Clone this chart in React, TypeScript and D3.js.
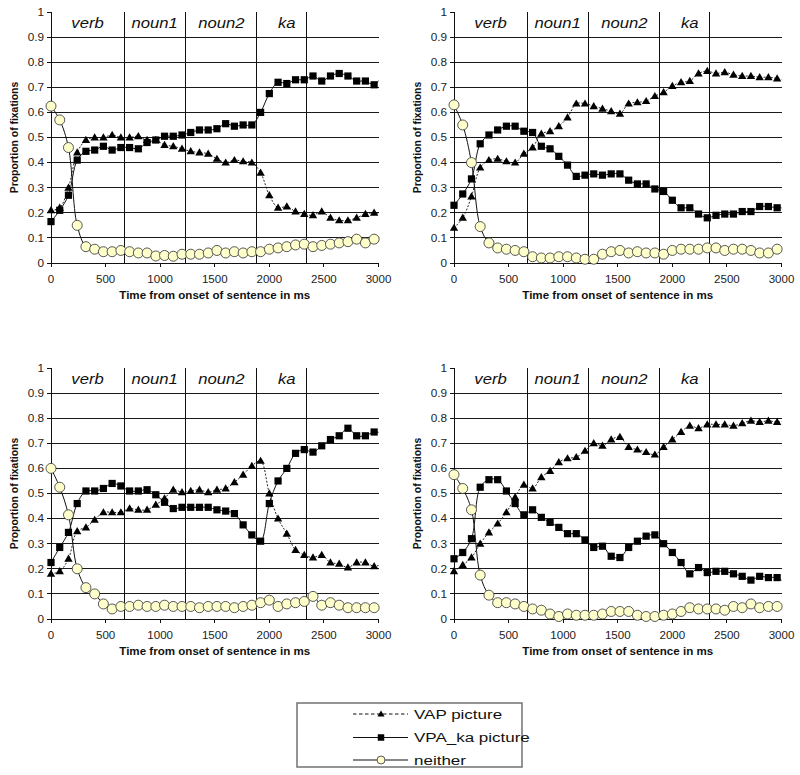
import React from 'react';
import * as d3 from 'd3';

const TIMES = [0, 80, 160, 240, 320, 400, 480, 560, 640, 720, 800, 880, 960, 1040, 1120, 1200, 1280, 1360, 1440, 1520, 1600, 1680, 1760, 1840, 1920, 2000, 2080, 2160, 2240, 2320, 2400, 2480, 2560, 2640, 2720, 2800, 2880, 2960, 3040];
const SEGMENT_BOUNDS = [670, 1235, 1878, 2343];
const SEGMENT_LABELS = ['verb', 'noun1', 'noun2', 'ka'];
const SEGMENT_LABEL_POS = [335, 950, 1560, 2160];
const Y_TICKS = [0, 0.1, 0.2, 0.3, 0.4, 0.5, 0.6, 0.7, 0.8, 0.9, 1];
const Y_TICK_LABELS = ['0', '0.1', '0.2', '0.3', '0.4', '0.5', '0.6', '0.7', '0.8', '0.9', '1'];
const X_TICKS = [0, 500, 1000, 1500, 2000, 2500, 3000];
const SERIES_NAMES = ['VAP picture', 'VPA_ka picture', 'neither'];

// Panel 1 (top-left)
const P1_VAP = [0.21, 0.22, 0.30, 0.44, 0.49, 0.50, 0.50, 0.51, 0.50, 0.50, 0.505, 0.49, 0.49, 0.47, 0.465, 0.455, 0.445, 0.44, 0.435, 0.415, 0.40, 0.41, 0.405, 0.40, 0.36, 0.27, 0.22, 0.225, 0.205, 0.195, 0.19, 0.205, 0.18, 0.17, 0.17, 0.18, 0.195, 0.20, 0.195];
const P1_VPA = [0.165, 0.21, 0.27, 0.41, 0.445, 0.45, 0.465, 0.45, 0.46, 0.46, 0.455, 0.48, 0.49, 0.505, 0.505, 0.51, 0.52, 0.53, 0.53, 0.535, 0.555, 0.545, 0.55, 0.55, 0.60, 0.675, 0.72, 0.715, 0.73, 0.73, 0.745, 0.725, 0.745, 0.755, 0.745, 0.725, 0.725, 0.71, 0.75];
const P1_NEITHER = [0.625, 0.57, 0.46, 0.15, 0.065, 0.055, 0.045, 0.045, 0.05, 0.045, 0.04, 0.04, 0.028, 0.03, 0.027, 0.035, 0.035, 0.035, 0.04, 0.05, 0.04, 0.045, 0.04, 0.045, 0.045, 0.055, 0.06, 0.065, 0.072, 0.075, 0.065, 0.07, 0.075, 0.08, 0.085, 0.095, 0.08, 0.095, 0.075];

// Panel 2 (top-right)
const P2_VAP = [0.14, 0.18, 0.265, 0.38, 0.41, 0.415, 0.405, 0.40, 0.435, 0.46, 0.515, 0.525, 0.545, 0.58, 0.635, 0.635, 0.625, 0.615, 0.605, 0.595, 0.635, 0.64, 0.645, 0.665, 0.68, 0.705, 0.72, 0.725, 0.755, 0.765, 0.755, 0.76, 0.75, 0.745, 0.745, 0.74, 0.74, 0.735, 0.725];
const P2_VPA = [0.23, 0.275, 0.335, 0.475, 0.51, 0.53, 0.545, 0.545, 0.525, 0.52, 0.465, 0.455, 0.425, 0.39, 0.345, 0.35, 0.355, 0.35, 0.355, 0.355, 0.33, 0.315, 0.315, 0.295, 0.285, 0.25, 0.22, 0.22, 0.195, 0.18, 0.19, 0.195, 0.195, 0.205, 0.205, 0.225, 0.225, 0.22, 0.22];
const P2_NEITHER = [0.63, 0.55, 0.40, 0.145, 0.08, 0.06, 0.055, 0.05, 0.045, 0.025, 0.02, 0.02, 0.025, 0.025, 0.02, 0.015, 0.015, 0.035, 0.045, 0.05, 0.04, 0.045, 0.04, 0.04, 0.035, 0.05, 0.055, 0.055, 0.055, 0.06, 0.06, 0.05, 0.055, 0.055, 0.05, 0.04, 0.04, 0.055, 0.06];

// Panel 3 (bottom-left)
const P3_VAP = [0.18, 0.19, 0.24, 0.35, 0.365, 0.395, 0.425, 0.425, 0.425, 0.44, 0.435, 0.435, 0.455, 0.48, 0.515, 0.505, 0.51, 0.515, 0.505, 0.515, 0.52, 0.545, 0.575, 0.61, 0.63, 0.50, 0.40, 0.34, 0.275, 0.255, 0.245, 0.255, 0.225, 0.22, 0.205, 0.225, 0.225, 0.21, 0.22];
const P3_VPA = [0.225, 0.285, 0.345, 0.46, 0.51, 0.51, 0.52, 0.54, 0.53, 0.51, 0.51, 0.515, 0.495, 0.465, 0.44, 0.445, 0.445, 0.445, 0.445, 0.435, 0.43, 0.42, 0.375, 0.335, 0.31, 0.46, 0.55, 0.60, 0.66, 0.675, 0.665, 0.69, 0.715, 0.73, 0.76, 0.73, 0.73, 0.745, 0.74];
const P3_NEITHER = [0.60, 0.525, 0.415, 0.20, 0.125, 0.10, 0.06, 0.04, 0.05, 0.05, 0.055, 0.05, 0.05, 0.055, 0.05, 0.05, 0.05, 0.045, 0.05, 0.05, 0.05, 0.045, 0.05, 0.055, 0.065, 0.075, 0.05, 0.06, 0.065, 0.07, 0.09, 0.055, 0.065, 0.055, 0.045, 0.045, 0.045, 0.045, 0.045];

// Panel 4 (bottom-right)
const P4_VAP = [0.19, 0.215, 0.245, 0.30, 0.345, 0.38, 0.425, 0.485, 0.535, 0.52, 0.565, 0.59, 0.625, 0.64, 0.645, 0.67, 0.70, 0.69, 0.715, 0.725, 0.685, 0.675, 0.665, 0.655, 0.685, 0.715, 0.745, 0.77, 0.76, 0.775, 0.775, 0.775, 0.77, 0.78, 0.79, 0.785, 0.79, 0.785, 0.79];
const P4_VPA = [0.24, 0.265, 0.32, 0.525, 0.555, 0.555, 0.51, 0.46, 0.415, 0.435, 0.405, 0.385, 0.365, 0.34, 0.34, 0.315, 0.285, 0.29, 0.25, 0.245, 0.285, 0.31, 0.33, 0.335, 0.30, 0.265, 0.225, 0.18, 0.205, 0.185, 0.19, 0.19, 0.18, 0.17, 0.155, 0.17, 0.165, 0.165, 0.14];
const P4_NEITHER = [0.575, 0.52, 0.435, 0.175, 0.095, 0.065, 0.065, 0.06, 0.05, 0.04, 0.035, 0.02, 0.01, 0.02, 0.015, 0.015, 0.015, 0.02, 0.03, 0.03, 0.03, 0.015, 0.01, 0.01, 0.015, 0.02, 0.03, 0.045, 0.04, 0.04, 0.04, 0.035, 0.05, 0.045, 0.06, 0.045, 0.05, 0.05, 0.05];

const PANELS = [
  { id: 'p1', x: 0, y: 0, vap: P1_VAP, vpa: P1_VPA, neither: P1_NEITHER },
  { id: 'p2', x: 403, y: 0, vap: P2_VAP, vpa: P2_VPA, neither: P2_NEITHER },
  { id: 'p3', x: 0, y: 356, vap: P3_VAP, vpa: P3_VPA, neither: P3_NEITHER },
  { id: 'p4', x: 403, y: 356, vap: P4_VAP, vpa: P4_VPA, neither: P4_NEITHER },
];

const FONT = "'Liberation Sans', Arial, Helvetica, sans-serif";
const PL = 51, PR = 378.5, PT = 12, PB = 263;
const MAX_T = 3000;

function Tri({ cx, cy, s = 1 }: { cx: number; cy: number; s?: number }) {
  const w = 4.2 * s, h1 = 4.2 * s, h2 = 3 * s;
  return <path d={`M${cx},${cy - h1}L${cx + w},${cy + h2}L${cx - w},${cy + h2}Z`} fill="#000" />;
}
function Sq({ cx, cy, s = 1 }: { cx: number; cy: number; s?: number }) {
  const h = 3.6 * s;
  return <rect x={cx - h} y={cy - h} width={2 * h} height={2 * h} fill="#000" />;
}
function Circ({ cx, cy, s = 1 }: { cx: number; cy: number; s?: number }) {
  return <circle cx={cx} cy={cy} r={5 * s} fill="#FFFFCC" stroke="#444" strokeWidth={0.9} />;
}

function Panel({ p }: { p: typeof PANELS[number] }) {
  const x = d3.scaleLinear().domain([0, 3000]).range([PL, PR]);
  const y = d3.scaleLinear().domain([0, 1]).range([PB, PT]);
  const line = d3.line<number>().x((_, i) => x(TIMES[i])).y((d) => y(d)).curve(d3.curveCatmullRom.alpha(0.5));
  const pts = (arr: number[]) => arr.map((v, i) => ({ t: TIMES[i], v })).filter((d) => d.t <= MAX_T);
  const clipId = `clip-${p.id}`;
  return (
    <g transform={`translate(${p.x},${p.y})`}>
      <defs>
        <clipPath id={clipId}>
          <rect x={PL} y={0} width={PR - PL} height={PB + 2} />
        </clipPath>
      </defs>
      {Y_TICKS.filter((t) => t > 0 && t < 1).map((t) => (
        <line key={`g${t}`} x1={PL} x2={PR} y1={y(t)} y2={y(t)} stroke="#1a1a1a" strokeWidth={1} shapeRendering="crispEdges" />
      ))}
      {SEGMENT_BOUNDS.map((b) => (
        <line key={`s${b}`} x1={x(b)} x2={x(b)} y1={y(1)} y2={y(0)} stroke="#111" strokeWidth={1} shapeRendering="crispEdges" />
      ))}
      <line x1={PL} x2={PL} y1={PT} y2={PB} stroke="#111" strokeWidth={1} shapeRendering="crispEdges" />
      <line x1={PL} x2={PR} y1={PB} y2={PB} stroke="#111" strokeWidth={1} shapeRendering="crispEdges" />
      {Y_TICKS.map((t, i) => (
        <g key={`yt${t}`}>
          <line x1={PL - 4} x2={PL} y1={y(t)} y2={y(t)} stroke="#111" shapeRendering="crispEdges" />
          <text transform={`translate(${PL - 7},${y(t) + 3.8}) scale(1.12,1)`} textAnchor="end" fontFamily={FONT} fontSize={10.5} fill="#222">
            {Y_TICK_LABELS[i]}
          </text>
        </g>
      ))}
      {X_TICKS.map((t) => (
        <g key={`xt${t}`}>
          <line x1={x(t)} x2={x(t)} y1={PB} y2={PB + 4} stroke="#111" shapeRendering="crispEdges" />
          <text transform={`translate(${x(t)},${PB + 20}) scale(1.1,1)`} textAnchor="middle" fontFamily={FONT} fontSize={10.5} fill="#222">
            {t}
          </text>
        </g>
      ))}
      <text transform={`translate(${(PL + PR) / 2},${PB + 36}) scale(1.16,1)`} textAnchor="middle" fontFamily={FONT} fontSize={10} fontWeight="bold" fill="#111">
        Time from onset of sentence in ms
      </text>
      <text transform={`translate(${17.5},${(PT + PB) / 2}) rotate(-90)`} textAnchor="middle" fontFamily={FONT} fontSize={10.4} fontWeight="bold" fill="#111">
        Proportion of fixations
      </text>
      {SEGMENT_LABELS.map((l, i) => (
        <text key={l} transform={`translate(${x(SEGMENT_LABEL_POS[i])},${PT + 16}) scale(1.15,1)`} textAnchor="middle" fontFamily={FONT} fontStyle="italic" fontSize={14.5} fill="#111">
          {l}
        </text>
      ))}
      <g clipPath={`url(#${clipId})`}>
        <path d={line(p.vap) || ''} fill="none" stroke="#111" strokeWidth={0.9} strokeDasharray="2,1.6" />
        <path d={line(p.vpa) || ''} fill="none" stroke="#111" strokeWidth={1} />
        <path d={line(p.neither) || ''} fill="none" stroke="#111" strokeWidth={1} />
      </g>
      {pts(p.vap).map((d) => <Tri key={`a${d.t}`} cx={x(d.t)} cy={y(d.v)} />)}
      {pts(p.vpa).map((d) => <Sq key={`b${d.t}`} cx={x(d.t)} cy={y(d.v)} />)}
      {pts(p.neither).map((d) => <Circ key={`c${d.t}`} cx={x(d.t)} cy={y(d.v)} />)}
    </g>
  );
}

function Legend() {
  const rows = [714, 737.5, 760];
  const lx1 = 353, lx2 = 408, mx = 381, tx = 414;
  return (
    <g>
      <rect x={297} y={703} width={225} height={64} fill="#fff" stroke="#7a7a7a" strokeWidth={1.6} />
      {SERIES_NAMES.map((name, i) => (
        <g key={name}>
          <line x1={lx1} x2={lx2} y1={rows[i]} y2={rows[i]} stroke="#111" strokeWidth={1.2} strokeDasharray={i === 0 ? '3.5,2.5' : undefined} />
          {i === 0 && <Tri cx={mx} cy={rows[i]} s={0.85} />}
          {i === 1 && <Sq cx={mx} cy={rows[i]} s={0.9} />}
          {i === 2 && <Circ cx={mx} cy={rows[i]} s={0.8} />}
          <text transform={`translate(${tx},${rows[i] + 4.5}) scale(1.36,1)`} fontFamily={FONT} fontSize={12.5} fill="#111">
            {name}
          </text>
        </g>
      ))}
    </g>
  );
}

export default function App() {
  return (
    <svg width={800} height={775} style={{ position: 'absolute', left: 0, top: 0, background: '#fff' }}>
      <rect x={0} y={0} width={800} height={775} fill="#fff" />
      {PANELS.map((p) => <Panel key={p.id} p={p} />)}
      <Legend />
    </svg>
  );
}
